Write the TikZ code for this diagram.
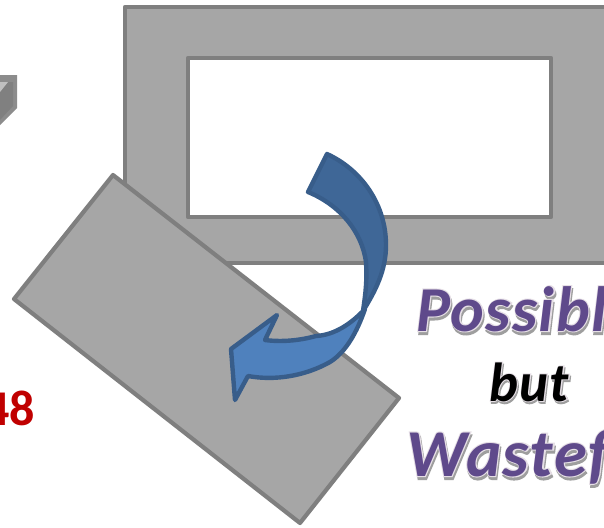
\documentclass[tikz,border=0pt]{standalone}
\usepackage{fontspec}
\setmainfont{Carlito}
\newfontfamily\wordfill[LetterSpace=2.2]{Carlito}
\newfontfamily\wordhalo[LetterSpace=2.2,FakeBold=3.2]{Carlito}
\definecolor{boxfill}{HTML}{A6A6A6}
\definecolor{boxline}{HTML}{7F7F7F}
\definecolor{arrowdark}{HTML}{3F6797}
\definecolor{arrowlight}{HTML}{4F81BD}
\definecolor{arrowline}{HTML}{385D8A}
\definecolor{wordpurple}{HTML}{5F4A8B}
\definecolor{wordhaloc}{HTML}{E6DFE6}
\definecolor{red48}{HTML}{C00000}
\newcommand{\fillsize}[1]{\wordfill\bfseries\itshape\fontsize{#1}{#1}\selectfont}
\newcommand{\halosize}[1]{\wordhalo\bfseries\itshape\fontsize{#1}{#1}\selectfont}
\tikzset{
  plate/.style={fill=boxfill,draw=boxline,line width=4.2pt,line join=round},
  arrowpart/.style={draw=arrowline,line width=4.4pt,line join=round},
  wordbase/.style={inner sep=0pt,anchor=base west},
  wordtop/.style={wordbase,text=wordpurple},
  wordedge/.style={wordbase,text=wordhaloc},
  wordshade/.style={wordbase,text=black!38},
}
\begin{document}
\begin{tikzpicture}[x=1pt,y=-1pt]
\useasboundingbox (0,0) rectangle (604,527);
\clip (0,0) rectangle (604,527);
\fill[white] (0,0) rectangle (604,527);
% frame
\draw[plate] (125,7) rectangle (620,263);
\draw[fill=white,draw=boxline,line width=4.2pt,line join=round] (188,58) rectangle (551,217);
% tilted plate
\draw[plate] (113,175) -- (399,398) -- (300,523) -- (14,299) -- cycle;
% cut-off block
\fill[black!45] (0,75) -- (17,75) -- (17,108) -- (0,125) -- cycle;
\fill[black!50] (0,82) -- (13,82) -- (13,106) -- (0,120) -- cycle;
\fill[black!25] (0,82) -- (8,82) -- (0,92) -- cycle;
% curved arrow
\draw[arrowpart,fill=arrowlight]
  (365,309) .. controls (352,323) and (335,335) .. (316,336)
  .. controls (298,341) and (280,342) .. (265,340)
  -- (277,315) -- (231,349) -- (235,400) -- (248,376)
  .. controls (275,381) and (305,376) .. (330,362)
  .. controls (346,352) and (357,332) .. (365,309) -- cycle;
\draw[arrowpart,fill=arrowdark]
  (327,154) .. controls (362,170) and (386,205) .. (386,245)
  .. controls (386,270) and (376,290) .. (363,311)
  .. controls (366,290) and (367,280) .. (366,262)
  .. controls (362,232) and (340,205) .. (308,192) -- cycle;
% words: shadow, pale edge, fill
\node[wordshade,font=\halosize{64}] at (417,334) {Possible};
\node[wordedge,font=\halosize{64}] at (416,331) {Possible};
\node[wordtop,font=\fillsize{64}] (possible) at (416,331) {Possible};
\node[wordshade,font=\halosize{55}] at (490,403) {but};
\node[wordedge,font=\halosize{55}] at (489,401) {but};
\node[wordtop,font=\fillsize{55},text=black] (but) at (489,401) {but};
\node[wordshade,font=\halosize{67}] at (407,479) {Wasteful};
\node[wordedge,font=\halosize{67}] at (406,476) {Wasteful};
\node[wordtop,font=\fillsize{67}] (wasteful) at (406,476) {Wasteful};
\node[inner sep=0pt,anchor=base east,text=red48,font=\bfseries\fontsize{50}{50}\selectfont] (num) at (35,425) {48};
\end{tikzpicture}
\end{document}
